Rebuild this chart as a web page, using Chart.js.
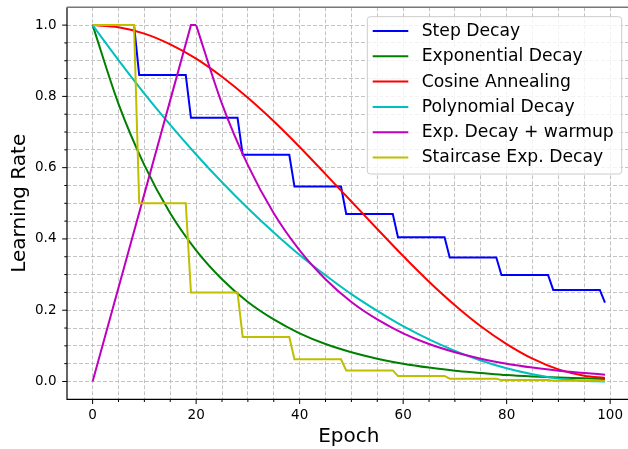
<!DOCTYPE html>
<html>
<head>
<meta charset="utf-8">
<script src="https://cdn.jsdelivr.net/npm/chart.js@4.4.1/dist/chart.umd.min.js"></script>
<style>
    html, body { margin: 0; padding: 0; background: #fff; overflow: hidden; }
    #wrap { width: 628px; height: 449px; overflow: hidden; }
</style>
</head>
<body>
<div id="wrap"><canvas id="chart" width="640" height="449" style="width:640px;height:449px;"></canvas></div>

<script>
    // data
    const labels = ['Step Decay', 'Exponential Decay', 'Cosine Annealing', 'Polynomial Decay', 'Exp. Decay + warmup', 'Staircase Exp. Decay'];
    const colors = ['#0000ff', '#008000', '#ff0000', '#00bfbf', '#bf00bf', '#bfbf00'];

    const stepEpochs = [0, 8, 9, 18, 19, 28, 29, 38, 39, 48, 49, 58, 59, 68, 69, 78, 79, 88, 89, 98, 99];
    const stepDecay = [1.0, 1.0, 0.86, 0.86, 0.74, 0.74, 0.636, 0.636, 0.547, 0.547, 0.470, 0.470, 0.405, 0.405, 0.348, 0.348, 0.299, 0.299, 0.257, 0.257, 0.221];
    const staircaseDecay = [1.0, 1.0, 0.5, 0.5, 0.25, 0.25, 0.125, 0.125, 0.0625, 0.0625, 0.031, 0.031, 0.0156, 0.0156, 0.0078, 0.0078, 0.0039, 0.0039, 0.002, 0.002, 0.001];

    const smoothEpochs = [0, 5, 10, 15, 20, 25, 30, 35, 40, 45, 50, 55, 60, 65, 70, 75, 80, 85, 90, 95, 99];
    const expDecay = [1.0, 0.779, 0.607, 0.472, 0.368, 0.287, 0.223, 0.174, 0.135, 0.105, 0.082, 0.064, 0.050, 0.039, 0.030, 0.024, 0.018, 0.014, 0.011, 0.009, 0.007];
    const cosineAnnealing = [1.0, 0.994, 0.976, 0.946, 0.906, 0.855, 0.796, 0.730, 0.658, 0.582, 0.505, 0.428, 0.352, 0.280, 0.214, 0.155, 0.105, 0.064, 0.034, 0.016, 0.010];
    const polyDecay = [1.0, 0.902, 0.808, 0.720, 0.637, 0.559, 0.486, 0.418, 0.355, 0.298, 0.245, 0.198, 0.155, 0.118, 0.086, 0.059, 0.037, 0.020, 0.008, 0.002, 0.0];

    const warmupEpochs = [0, 19, 20, 25, 30, 35, 40, 45, 50, 55, 60, 65, 70, 75, 80, 85, 90, 95, 99];
    const warmupDecay = [0.0, 1.0, 1.0, 0.779, 0.607, 0.472, 0.368, 0.287, 0.223, 0.174, 0.135, 0.105, 0.082, 0.064, 0.050, 0.039, 0.030, 0.024, 0.019];

    const xTicks = [0, 5, 10, 15, 20, 25, 30, 35, 40, 45, 50, 55, 60, 65, 70, 75, 80, 85, 90, 95, 100];
    const yTicks = [0, 0.05, 0.1, 0.15, 0.2, 0.25, 0.3, 0.35, 0.4, 0.45, 0.5, 0.55, 0.6, 0.65, 0.7, 0.75, 0.8, 0.85, 0.9, 0.95, 1.0];

    const FONT = 'DejaVu Sans';
    const pts = (xs, ys) => xs.map((x, i) => ({ x: x, y: ys[i] }));

    function line(idx, data, smooth) {
        return {
            label: labels[idx],
            data: data,
            borderColor: colors[idx],
            backgroundColor: colors[idx],
            borderWidth: 2,
            pointRadius: 0,
            fill: false,
            tension: 0,
            cubicInterpolationMode: smooth ? 'monotone' : 'default',
            order: 10 - idx
        };
    }

    const warmupPts = pts(warmupEpochs, warmupDecay);

    const datasets = [
        line(0, pts(stepEpochs, stepDecay), false),
        line(1, pts(smoothEpochs, expDecay), true),
        line(2, pts(smoothEpochs, cosineAnnealing), true),
        line(3, pts(smoothEpochs, polyDecay), true),
        line(4, warmupPts.slice(0, 3), false),   // linear warmup ramp
        line(4, warmupPts.slice(2), true),       // decay after warmup
        line(5, pts(stepEpochs, staircaseDecay), false)
    ];

    // no extra room for the end labels, the frame is fixed
    function noPad(s) {
        s.paddingTop = 0;
        s.paddingBottom = 0;
        s.paddingLeft = 0;
        s.paddingRight = 0;
    }

    // spines, tick marks and the boxed legend
    const decor = {
        id: 'decor',
        afterDraw(chart) {
            const { ctx, chartArea: a, scales: { x, y } } = chart;
            ctx.save();
            ctx.strokeStyle = '#000';
            ctx.lineWidth = 1;
            ctx.beginPath();
            for (const t of x.ticks) {
                const px = x.getPixelForValue(t.value);
                const len = t.value % 20 === 0 ? 4.8 : 2.7;
                ctx.moveTo(px, a.bottom);
                ctx.lineTo(px, a.bottom + len);
            }
            for (const t of y.ticks) {
                const py = y.getPixelForValue(t.value);
                const len = Math.round(t.value * 100) % 20 === 0 ? 4.8 : 2.7;
                ctx.moveTo(a.left, py);
                ctx.lineTo(a.left - len, py);
            }
            ctx.stroke();

            ctx.lineWidth = 1.2;
            ctx.beginPath();
            ctx.moveTo(a.left, a.top);
            ctx.lineTo(a.left, a.bottom);
            ctx.lineTo(a.right, a.bottom);
            ctx.stroke();

            ctx.strokeStyle = '#777';
            ctx.lineWidth = 1.6;
            ctx.beginPath();
            ctx.moveTo(a.left, a.top);
            ctx.lineTo(a.right, a.top);
            ctx.lineTo(a.right, a.bottom);
            ctx.stroke();

            // legend box
            const bx = a.right - 263.3, by = a.top + 9.4, bw = 254.4, bh = 157.3;
            ctx.fillStyle = 'rgba(255,255,255,0.8)';
            ctx.strokeStyle = '#cccccc';
            ctx.lineWidth = 1;
            ctx.beginPath();
            ctx.roundRect(bx, by, bw, bh, 3);
            ctx.fill();
            ctx.stroke();

            ctx.font = '17.2px "' + FONT + '"';
            ctx.textBaseline = 'middle';
            ctx.textAlign = 'left';
            labels.forEach((lab, i) => {
                const cy = by + 14.3 + i * 25.3;
                ctx.strokeStyle = colors[i];
                ctx.lineWidth = 2;
                ctx.beginPath();
                ctx.moveTo(bx + 5.4, cy);
                ctx.lineTo(bx + 41, cy);
                ctx.stroke();
                ctx.fillStyle = '#000';
                ctx.fillText(lab, bx + 54.4, cy + 0.5);
            });
            ctx.restore();
        }
    };

    const tickFont = { family: FONT, size: 13.5 };
    const titleFont = { family: FONT, size: 20, lineHeight: 1.2 };

    new Chart(document.getElementById('chart'), {
        type: 'line',
        data: { datasets: datasets },
        options: {
            responsive: false,
            animation: false,
            devicePixelRatio: 1,
            layout: { padding: { top: 7.3, right: 9.4, bottom: 0, left: 0 } },
            plugins: { legend: { display: false }, tooltip: { enabled: false } },
            scales: {
                x: {
                    type: 'linear',
                    min: -4.95,
                    max: 103.95,
                    afterBuildTicks: s => { s.ticks = xTicks.map(v => ({ value: v })); },
                    afterFit: s => { s.height = 49.7; noPad(s); },
                    grid: { color: '#b4b4b4', lineWidth: 0.8, drawTicks: false },
                    border: { display: false, dash: [4, 2] },
                    ticks: {
                        autoSkip: false, maxRotation: 0, padding: 8, color: '#000', font: tickFont,
                        callback: v => (v % 20 === 0 ? String(v) : '')
                    },
                    title: { display: true, text: 'Epoch', color: '#000', font: titleFont, padding: { top: 0, bottom: 0 } }
                },
                y: {
                    type: 'linear',
                    min: -0.05,
                    max: 1.05,
                    afterBuildTicks: s => { s.ticks = yTicks.map(v => ({ value: v })); },
                    afterFit: s => { s.width = 67; noPad(s); },
                    grid: { color: '#b4b4b4', lineWidth: 0.8, drawTicks: false },
                    border: { display: false, dash: [4, 2] },
                    ticks: {
                        autoSkip: false, padding: 10.5, color: '#000', font: tickFont,
                        callback: v => (Math.round(v * 100) % 20 === 0 ? v.toFixed(1) : '')
                    },
                    title: { display: true, text: 'Learning Rate', color: '#000', font: titleFont, padding: { top: 7.6, bottom: 0 } }
                }
            }
        },
        plugins: [decor]
    });
</script>
</body>
</html>
